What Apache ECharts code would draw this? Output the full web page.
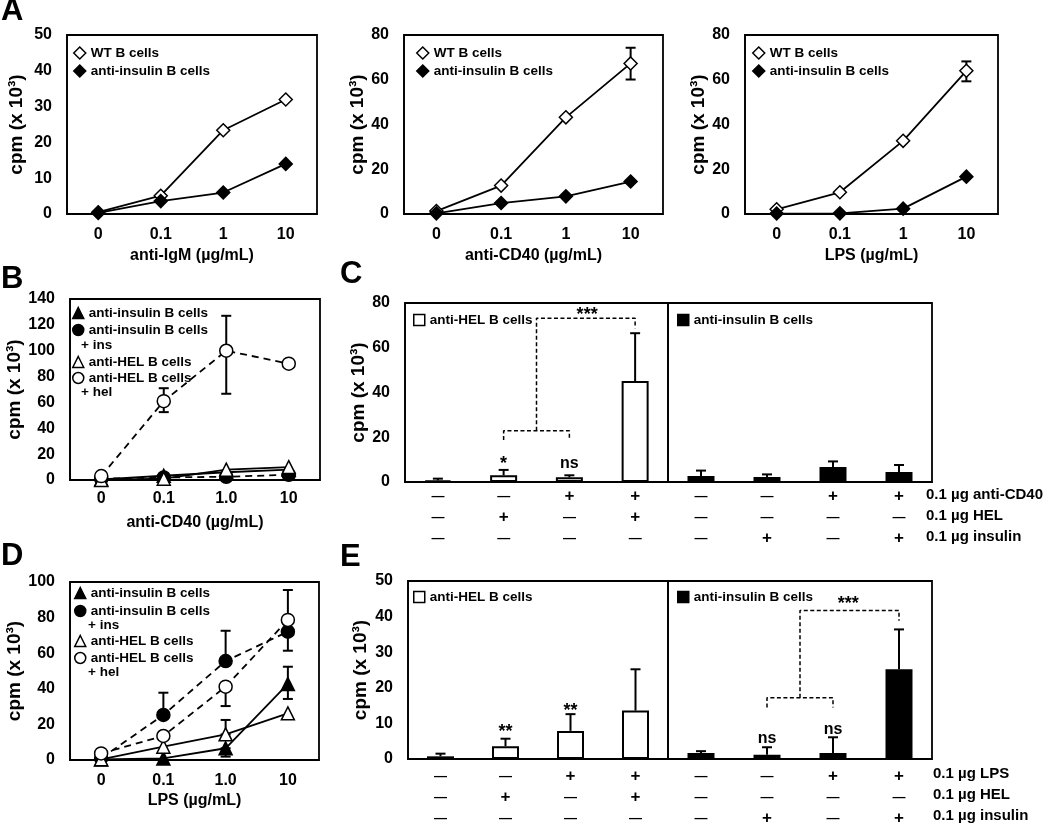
<!DOCTYPE html>
<html>
<head>
<meta charset="utf-8">
<script src="https://cdn.jsdelivr.net/npm/echarts@6/dist/echarts.min.js"></script>
<style>
  html, body { margin: 0; padding: 0; background: #fff; }
  #chart { width: 1050px; height: 824px; }
</style>
</head>
<body>
<div id="chart"></div>
<script>
// dose categories
const doses = ["0", "0.1", "1", "10"]
const dosesB = ["0", "0.1", "1.0", "10"]

// panel A (x 10^3 cpm)
const a1Wt = [0.5, 5.1, 23.4, 32]
const a1Ins = [0.3, 3.6, 6.0, 14]
const a2Wt = [1.3, 12.7, 43.2, 67.3]
const a2Ins = [0.3, 4.9, 7.9, 14.5]
const a2WtErr = [[3, 60.1, 74.3]]
const a3Wt = [2.1, 9.7, 32.7, 64]
const a3Ins = [0.2, 0.3, 2.4, 16.7]
const a3WtErr = [[3, 59.3, 68.2]]

// panel B (anti-CD40)
const bIns = [0.5, 3.3, 6, 8]
const bInsIns = [1, 2, 2.5, 4]
const bHel = [0, 1, 8, 10]
const bHelHel = [3, 61, 100, 90]
const bHelHelErr = [[1, 52.5, 71], [2, 66.7, 127]]

// panel D (LPS)
const dIns = [0.3, 0.9, 6.6, 42.7]
const dInsErr = [[2, 1.9, 6.6], [3, 34.3, 52.4]]
const dInsIns = [1, 25.3, 55.6, 72.1]
const dInsInsErr = [[1, 25.3, 37.8], [2, 55.6, 72.6], [3, 61.4, 72.1]]
const dHel = [0.4, 7.5, 14.4, 26.2]
const dHelErr = [[2, 14.4, 22.5]]
const dHelHel = [3.7, 13.5, 41.2, 78.7]
const dHelHelErr = [[2, 30.3, 41.2], [3, 78.7, 95.5]]

// panel C bars + upper error
const cHelBars = [0.7, 3.0, 2.1, 45.1]
const cHelTops = [1.5, 5.4, 3.0, 66.5]
const cInsBars = [2.7, 2.2, 6.7, 4.5]
const cInsTops = [5.1, 3.4, 9.2, 7.6]
const cBracketLow = [[1, 18.8], [1, 22.9], [2, 22.9], [2, 18.8]]
const cBracketHigh = [[1.5, 22.9], [1.5, 73.2], [3, 73.2], [3, 68.7]]
const cSig = [[1, 8.0, "*"], [2, 8.3, "ns"], [2.27, 74.8, "***"]]

// panel E bars + upper error
const eHelBars = [0.75, 3.6, 7.9, 13.6]
const eHelTops = [1.5, 5.7, 12.6, 25.2]
const eInsBars = [1.7, 1.2, 1.7, 25.2]
const eInsTops = [2.2, 3.3, 6.1, 36.4]
const eBracketLow = [[1, 14.5], [1, 17.2], [2, 17.2], [2, 14.5]]
const eBracketHigh = [[1.5, 17.2], [1.5, 41.7], [3, 41.7], [3, 38.8]]
const eSigHel = [[1, 7.6, "**"], [2, 13.6, "**"]]
const eSigIns = [[1, 5.8, "ns"], [2, 8.3, "ns"], [2.23, 43.6, "***"]]

// treatment table rows (8 columns: 4 anti-HEL, 4 anti-insulin)
const cCd40 = ["-", "-", "+", "+", "-", "-", "+", "+"]
const cHelRow = ["-", "+", "-", "+", "-", "-", "-", "-"]
const cInsRow = ["-", "-", "-", "-", "-", "+", "-", "+"]
const eLps = ["-", "-", "+", "+", "-", "-", "+", "+"]
const eHelRow = ["-", "+", "-", "+", "-", "-", "-", "-"]
const eInsRow = ["-", "-", "-", "-", "-", "+", "-", "+"]
const cTreatments = ["0.1 µg anti-CD40", "0.1 µg HEL", "0.1 µg insulin"]
const eTreatments = ["0.1 µg LPS", "0.1 µg HEL", "0.1 µg insulin"]

const fontFamily = '"Liberation Sans", Arial, sans-serif'
const ink = "#000"
const bold = { color: ink, fontWeight: "bold", fontFamily }
const openStyle = { color: "#fff", borderColor: ink, borderWidth: 1.5 }
const solidStyle = { color: ink, borderColor: ink, borderWidth: 1.5 }

const chart = echarts.init(document.getElementById("chart"))

function doseAxis(grid, cats, name, margin, nameGap) {
  return {
    type: "category", gridIndex: grid, data: cats,
    name, nameLocation: "middle", nameGap,
    nameTextStyle: { ...bold, fontSize: 16 },
    axisLine: { onZero: false, lineStyle: { color: ink, width: 1.5 } },
    axisTick: { show: false },
    axisLabel: { interval: 0, margin, ...bold, fontSize: 16 },
  }
}

function treatAxis(grid, rows, from, margin, names, nameGap, namePad) {
  const cats = [0, 1, 2, 3].map((i) => rows.map((r) => r[from + i]).join(""))
  return {
    type: "category", gridIndex: grid, data: cats,
    axisLine: { onZero: false, lineStyle: { color: ink, width: 1.5 } },
    axisTick: { show: false },
    axisLabel: {
      interval: 0, margin,
      formatter: (v) => v.split("").map((s) => (s === "+" ? "{p|+}" : "{d|—}")).join("\n"),
      rich: {
        d: { ...bold, fontSize: 13, lineHeight: 21 },
        p: { ...bold, fontSize: 17, lineHeight: 21 },
      },
    },
    name: names ? names.join("\n") : "",
    nameLocation: "end", nameGap: nameGap || 0,
    nameTextStyle: {
      ...bold, fontSize: 15, lineHeight: 21, align: "left", verticalAlign: "top",
      padding: [namePad || 0, 0, 0, 0],
    },
  }
}

function cpmAxis(grid, max, interval, nameGap) {
  const labelled = nameGap != null
  return {
    type: "value", gridIndex: grid, min: 0, max, interval,
    name: labelled ? "cpm (x 10³)" : "", nameLocation: "middle", nameGap: nameGap || 0,
    nameTextStyle: { ...bold, fontSize: 19 },
    axisLine: { show: labelled, onZero: false, lineStyle: { color: ink, width: 1.5 } },
    axisTick: { show: false },
    splitLine: { show: false },
    axisLabel: { show: labelled, ...bold, fontSize: 16, margin: 15 },
  }
}

function lineSeries(name, grid, data, symbol, filled, dashed) {
  return {
    name, type: "line", xAxisIndex: grid, yAxisIndex: grid, data,
    symbol, symbolSize: 13, z: 3,
    lineStyle: { color: ink, width: 1.8, type: dashed ? [7, 5] : "solid" },
    itemStyle: filled ? solidStyle : openStyle,
    emphasis: { disabled: true },
  }
}

function errorBars(grid, rows, both) {
  return {
    type: "custom", xAxisIndex: grid, yAxisIndex: grid, data: rows, z: both ? 1 : 3, silent: true,
    renderItem(params, api) {
      const lo = api.coord([api.value(0), api.value(1)])
      const hi = api.coord([api.value(0), api.value(2)])
      const style = { stroke: ink, lineWidth: 2 }
      const cap = (p) => ({ type: "line", shape: { x1: p[0] - 5, y1: p[1], x2: p[0] + 5, y2: p[1] }, style })
      const children = [{ type: "line", shape: { x1: lo[0], y1: lo[1], x2: hi[0], y2: hi[1] }, style }, cap(hi)]
      if (both) children.push(cap(lo))
      return { type: "group", children }
    },
  }
}

function barSeries(name, grid, values, filled) {
  return {
    name, type: "bar", xAxisIndex: grid, yAxisIndex: grid, data: values, barWidth: 27,
    itemStyle: { color: filled ? ink : "#fff", borderColor: ink, borderWidth: 2 },
    emphasis: { disabled: true },
  }
}

function barErrors(grid, values, tops) {
  return errorBars(grid, values.map((v, i) => [i, v, tops[i]]), false)
}

function bracket(xIdx, yIdx, pts) {
  return {
    type: "line", xAxisIndex: xIdx, yAxisIndex: yIdx, data: pts, symbol: "none", silent: true,
    lineStyle: { color: ink, width: 1.5, type: [4, 2.5] },
  }
}

function sigLabels(xIdx, yIdx, rows) {
  return {
    type: "custom", xAxisIndex: xIdx, yAxisIndex: yIdx, data: rows.map((r) => [r[0], r[1]]),
    silent: true, z: 4,
    renderItem(params, api) {
      const p = api.coord([api.value(0), api.value(1)])
      const text = rows[params.dataIndex][2]
      const size = text.includes("*") ? 18 : 16
      return {
        type: "text", x: p[0], y: p[1],
        style: { text, font: "bold " + size + "px " + fontFamily, fill: ink, align: "center", verticalAlign: "middle" },
      }
    },
  }
}

function legendBox(left, top, gap, size, items) {
  return {
    left, top, orient: "vertical", itemGap: gap, itemWidth: size, itemHeight: size,
    padding: 0, selectedMode: false,
    data: items.map(([name, icon, filled]) => ({ name, icon, itemStyle: filled ? solidStyle : openStyle })),
    formatter: (n) => n.split("|")[1],
    textStyle: { ...bold, fontSize: 13.5, lineHeight: 16 },
  }
}

function note(left, top, text) {
  return { type: "text", left, top, style: { text, font: "bold 13.5px " + fontFamily, fill: ink } }
}

const hiddenX = (grid) => ({ type: "value", gridIndex: grid, min: -0.5, max: 3.5, show: false })

const grids = [
  { left: 67, top: 35, width: 250, height: 179 },   // A1
  { left: 404, top: 35, width: 259, height: 179 },  // A2
  { left: 745, top: 35, width: 253, height: 179 },  // A3
  { left: 70, top: 299, width: 250, height: 181 },  // B
  { left: 405, top: 303, width: 263, height: 179 }, // C left
  { left: 668, top: 303, width: 264, height: 179 }, // C right
  { left: 70, top: 582, width: 249, height: 178 },  // D
  { left: 408, top: 581, width: 260, height: 178 }, // E left
  { left: 668, top: 581, width: 264, height: 178 }, // E right
]

const letters = [
  { text: "A", left: 1, top: -4 },
  { text: "B", left: 1, top: 264 },
  { text: "C", left: 340, top: 259 },
  { text: "D", left: 1, top: 541 },
  { text: "E", left: 340, top: 542 },
]

const option = {
  animation: false,
  textStyle: { fontFamily },
  title: letters.map((l) => ({ ...l, padding: 0, textStyle: { ...bold, fontSize: 31 } })),
  grid: grids.map((g) => ({ ...g, show: true, borderColor: ink, borderWidth: 1.8, outerBoundsMode: "none" })),
  xAxis: [
    doseAxis(0, doses, "anti-IgM (µg/mL)", 13, 34),
    doseAxis(1, doses, "anti-CD40 (µg/mL)", 13, 34),
    doseAxis(2, doses, "LPS (µg/mL)", 13, 34),
    doseAxis(3, dosesB, "anti-CD40 (µg/mL)", 11, 35),
    treatAxis(4, [cCd40, cHelRow, cInsRow], 0, 3.5),
    treatAxis(5, [cCd40, cHelRow, cInsRow], 4, 3.5, cTreatments, -6, 2),
    doseAxis(6, dosesB, "LPS (µg/mL)", 13, 33),
    treatAxis(7, [eLps, eHelRow, eInsRow], 0, 6.5),
    treatAxis(8, [eLps, eHelRow, eInsRow], 4, 6.5, eTreatments, 1, 4),
    hiddenX(4),
    hiddenX(7),
    hiddenX(8),
  ],
  yAxis: [
    cpmAxis(0, 50, 10, 41),
    cpmAxis(1, 80, 20, 35),
    cpmAxis(2, 80, 20, 37),
    cpmAxis(3, 140, 20, 44),
    cpmAxis(4, 80, 20, 36),
    cpmAxis(5, 80, 20),
    cpmAxis(6, 100, 20, 44),
    cpmAxis(7, 50, 10, 38),
    cpmAxis(8, 50, 10),
  ],
  legend: [
    legendBox(73, 45, 2, 12, [["A1|WT B cells", "diamond", false], ["A1|anti-insulin B cells", "diamond", true]]),
    legendBox(416, 45, 2, 12, [["A2|WT B cells", "diamond", false], ["A2|anti-insulin B cells", "diamond", true]]),
    legendBox(752, 45, 2, 12, [["A3|WT B cells", "diamond", false], ["A3|anti-insulin B cells", "diamond", true]]),
    legendBox(72, 305, 1, 11, [["B1|anti-insulin B cells", "triangle", true], ["B2|anti-insulin B cells", "circle", true]]),
    legendBox(72, 354, 0, 11, [["B3|anti-HEL B cells", "triangle", false], ["B4|anti-HEL B cells", "circle", false]]),
    legendBox(74, 585, 2, 11, [["D1|anti-insulin B cells", "triangle", true], ["D2|anti-insulin B cells", "circle", true]]),
    legendBox(74, 633, 1, 11, [["D3|anti-HEL B cells", "triangle", false], ["D4|anti-HEL B cells", "circle", false]]),
    legendBox(413, 312, 0, 11, [["C1|anti-HEL B cells", "rect", false]]),
    legendBox(677, 312, 0, 11, [["C2|anti-insulin B cells", "rect", true]]),
    legendBox(413, 589, 0, 11, [["E1|anti-HEL B cells", "rect", false]]),
    legendBox(677, 589, 0, 11, [["E2|anti-insulin B cells", "rect", true]]),
  ],
  graphic: [note(81, 338, "+ ins"), note(81, 385, "+ hel"), note(88, 618, "+ ins"), note(88, 665, "+ hel")],
  series: [
    // A
    lineSeries("A1|WT B cells", 0, a1Wt, "diamond", false),
    lineSeries("A1|anti-insulin B cells", 0, a1Ins, "diamond", true),
    lineSeries("A2|WT B cells", 1, a2Wt, "diamond", false),
    lineSeries("A2|anti-insulin B cells", 1, a2Ins, "diamond", true),
    errorBars(1, a2WtErr, true),
    lineSeries("A3|WT B cells", 2, a3Wt, "diamond", false),
    lineSeries("A3|anti-insulin B cells", 2, a3Ins, "diamond", true),
    errorBars(2, a3WtErr, true),
    // B
    lineSeries("B1|anti-insulin B cells", 3, bIns, "triangle", true),
    lineSeries("B2|anti-insulin B cells", 3, bInsIns, "circle", true, true),
    lineSeries("B3|anti-HEL B cells", 3, bHel, "triangle", false),
    lineSeries("B4|anti-HEL B cells", 3, bHelHel, "circle", false, true),
    errorBars(3, bHelHelErr, true),
    // C
    barSeries("C1|anti-HEL B cells", 4, cHelBars, false),
    barErrors(4, cHelBars, cHelTops),
    barSeries("C2|anti-insulin B cells", 5, cInsBars, true),
    barErrors(5, cInsBars, cInsTops),
    bracket(9, 4, cBracketLow),
    bracket(9, 4, cBracketHigh),
    sigLabels(9, 4, cSig),
    // D
    lineSeries("D1|anti-insulin B cells", 6, dIns, "triangle", true),
    lineSeries("D2|anti-insulin B cells", 6, dInsIns, "circle", true, true),
    lineSeries("D3|anti-HEL B cells", 6, dHel, "triangle", false),
    lineSeries("D4|anti-HEL B cells", 6, dHelHel, "circle", false, true),
    errorBars(6, dInsErr, true),
    errorBars(6, dInsInsErr, true),
    errorBars(6, dHelErr, true),
    errorBars(6, dHelHelErr, true),
    // E
    barSeries("E1|anti-HEL B cells", 7, eHelBars, false),
    barErrors(7, eHelBars, eHelTops),
    sigLabels(10, 7, eSigHel),
    barSeries("E2|anti-insulin B cells", 8, eInsBars, true),
    barErrors(8, eInsBars, eInsTops),
    bracket(11, 8, eBracketLow),
    bracket(11, 8, eBracketHigh),
    sigLabels(11, 8, eSigIns),
  ],
}

chart.setOption(option)
</script>
</body>
</html>
